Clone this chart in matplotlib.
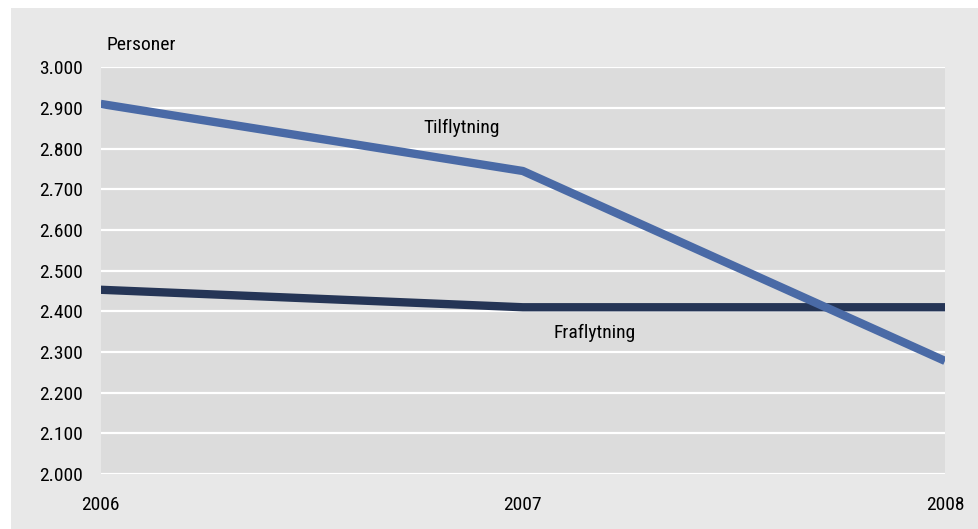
# Tilflytning og fraflytning 2006-2008

import matplotlib
matplotlib.use('Agg')
import matplotlib.pyplot as plt
from matplotlib.patches import Rectangle
from matplotlib.ticker import FuncFormatter

years = [2006, 2007, 2008]
tilflytning = [2910, 2745, 2278]
fraflytning = [2453, 2410, 2410]
yticks = list(range(2000, 3001, 100))

PANEL = '#e8e8e8'
PLOT_BG = '#dcdcdc'
C_TIL = '#4a6aa6'
C_FRA = '#253556'

plt.rcParams['font.family'] = ['Roboto Condensed', 'Liberation Sans Narrow', 'Roboto', 'DejaVu Sans']

fig = plt.figure(figsize=(9.79, 5.29), dpi=100)
fig.patch.set_facecolor('white')
fig.patches.append(Rectangle((11 / 979, 0), 1, 1 - 8 / 529, transform=fig.transFigure,
                             facecolor=PANEL, edgecolor='none', zorder=-5))

ax = fig.add_axes([100.7 / 979, 1 - 474 / 529, (945 - 100.7) / 979, (474 - 67.3) / 529])
ax.set_zorder(2)
ax.set_facecolor(PLOT_BG)

for v in yticks:
    ax.axhline(v, color='white', lw=1.6, zorder=1)

ax.plot(years, fraflytning, color=C_FRA, lw=6, solid_capstyle='butt', zorder=3)
ax.plot(years, tilflytning, color=C_TIL, lw=6, solid_capstyle='butt', zorder=4)

ax.set_xlim(2006, 2008)
ax.set_ylim(2000, 3000)
ax.set_xticks(years)
ax.set_xticklabels([str(y) for y in years])
ax.set_yticks(yticks)
ax.yaxis.set_major_formatter(FuncFormatter(lambda v, p: f'{int(v):,}'.replace(',', '.')))

for s in ax.spines.values():
    s.set_visible(False)
ax.tick_params(axis='both', length=0, labelsize=14, colors='black')
ax.tick_params(axis='y', pad=13)
ax.tick_params(axis='x', pad=16)

ax.text(2006.856, 2852, 'Tilflytning', fontsize=14, ha='center', va='center', zorder=5)
ax.text(2007.171, 2348, 'Fraflytning', fontsize=14, ha='center', va='center', zorder=5)
ax.text(0.007, 1.055, 'Personer', fontsize=14, ha='left', va='center', transform=ax.transAxes)

fig.savefig('out.png', dpi=100, facecolor=fig.get_facecolor())
